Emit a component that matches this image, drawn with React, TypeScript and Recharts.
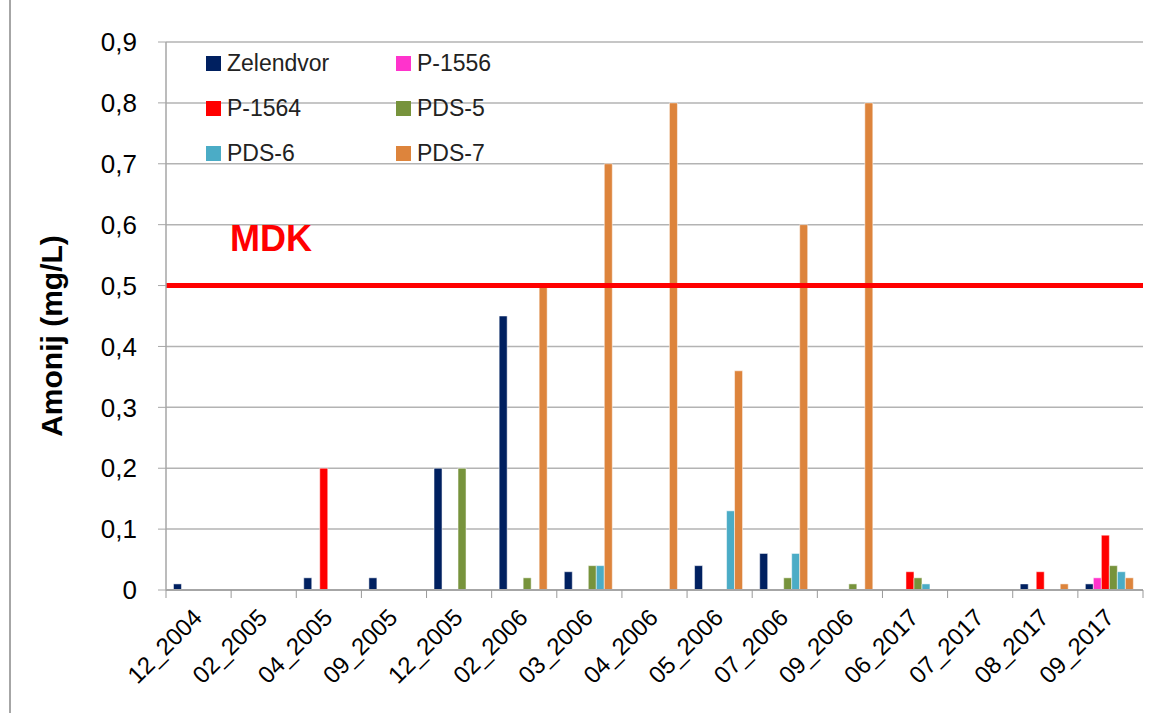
import { BarChart, Bar, XAxis, YAxis, CartesianGrid, ReferenceLine } from 'recharts';

const months = ['12_2004', '02_2005', '04_2005', '09_2005', '12_2005', '02_2006', '03_2006', '04_2006', '05_2006', '07_2006', '09_2006', '06_2017', '07_2017', '08_2017', '09_2017'];

const zelendvor = [0.01, null, 0.02, 0.02, 0.2, 0.45, 0.03, null, 0.04, 0.06, null, null, null, 0.01, 0.01];
const p1556 = [null, null, null, null, null, null, null, null, null, null, null, null, null, null, 0.02];
const p1564 = [null, null, 0.2, null, null, null, null, null, null, null, null, 0.03, null, 0.03, 0.09];
const pds5 = [null, null, null, null, 0.2, 0.02, 0.04, null, null, 0.02, 0.01, 0.02, null, null, 0.04];
const pds6 = [null, null, null, null, null, null, 0.04, null, 0.13, 0.06, null, 0.01, null, null, 0.03];
const pds7 = [null, null, null, null, null, 0.5, 0.7, 0.8, 0.36, 0.6, 0.8, null, null, 0.01, 0.02];

const yTicks = [0, 0.1, 0.2, 0.3, 0.4, 0.5, 0.6, 0.7, 0.8, 0.9];
const mdk = 0.5;

const series = [
  { key: 'zelendvor', name: 'Zelendvor', color: '#002060' },
  { key: 'p1556', name: 'P-1556', color: '#FF33CC' },
  { key: 'p1564', name: 'P-1564', color: '#FF0000' },
  { key: 'pds5', name: 'PDS-5', color: '#77933C' },
  { key: 'pds6', name: 'PDS-6', color: '#4BACC6' },
  { key: 'pds7', name: 'PDS-7', color: '#DD843C' },
];

const data = months.map((m, i) => ({
  month: m,
  zelendvor: zelendvor[i],
  p1556: p1556[i],
  p1564: p1564[i],
  pds5: pds5[i],
  pds6: pds6[i],
  pds7: pds7[i],
}));

const font = '"Liberation Sans", Arial, sans-serif';
const band = (1143 - 166) / months.length;

function MonthTick(props: any) {
  const { x, y, payload, index } = props;
  const isLast = index === months.length - 1;
  const tx = x + 5;
  const ty = y + 21;
  return (
    <g>
      <line x1={x - band / 2} y1={y - 8} x2={x - band / 2} y2={y} stroke="#999" />
      {isLast && <line x1={x + band / 2} y1={y - 8} x2={x + band / 2} y2={y} stroke="#999" />}
      <text
        x={tx}
        y={ty}
        textAnchor="end"
        fontSize={24}
        fill="#000"
        fontFamily={font}
        transform={`rotate(-45, ${tx}, ${ty})`}
      >
        {payload.value}
      </text>
    </g>
  );
}

function LegendBox() {
  return (
    <div style={{ position: 'absolute', left: 206, top: 49, display: 'grid', gridTemplateColumns: '190px 190px', rowGap: 17, fontFamily: font, fontSize: 23 }}>
      {series.map((s) => (
        <div key={s.key} style={{ display: 'flex', alignItems: 'center', height: 28 }}>
          <span style={{ width: 15, height: 15, background: s.color, display: 'inline-block', marginRight: 6 }} />
          <span style={{ color: '#222' }}>{s.name}</span>
        </div>
      ))}
    </div>
  );
}

function MdkLabel(props: any) {
  const { viewBox } = props;
  return (
    <text x={viewBox.x + 64} y={viewBox.y - 35} fill="#FF0000" fontSize={36} fontWeight="bold" fontFamily={font}>
      MDK
    </text>
  );
}

export default function App() {
  return (
    <div style={{ position: 'absolute', left: 0, top: 0, width: 1154, height: 713, background: '#fff' }}>
      <div style={{ position: 'absolute', left: 9, top: 0, width: 2, height: 713, background: '#a6a6a6' }} />
      <BarChart
        width={1154}
        height={713}
        data={data}
        margin={{ top: 42, right: 11, left: 0, bottom: 0 }}
        barCategoryGap="11.5%"
        barGap={0}
      >
        <CartesianGrid vertical={false} stroke="#b3b3b3" strokeWidth={1.5} />
        <XAxis
          dataKey="month"
          height={123}
          interval={0}
          tickLine={false}
          axisLine={{ stroke: '#a6a6a6', strokeWidth: 2 }}
          tick={<MonthTick />}
        />
        <YAxis
          width={166}
          domain={[0, 0.9]}
          ticks={yTicks}
          interval={0}
          tickFormatter={(v: number) => (v === 0 ? '0' : v.toFixed(1).replace('.', ','))}
          tick={{ fontSize: 26, fill: '#000', fontFamily: font }}
          tickLine={{ stroke: '#a6a6a6' }}
          tickSize={8}
          tickMargin={21}
          axisLine={{ stroke: '#a6a6a6', strokeWidth: 1.5 }}
          label={{
            value: 'Amonij (mg/L)',
            angle: -90,
            position: 'insideLeft',
            dx: 46,
            dy: 20,
            style: { fontSize: 30, fontWeight: 'bold', fill: '#000', fontFamily: font, textAnchor: 'middle' },
          }}
        />
        {series.map((s) => (
          <Bar key={s.key} dataKey={s.key} name={s.name} fill={s.color} stroke="#ffffff" strokeOpacity={0.5} isAnimationActive={false} />
        ))}
        <ReferenceLine y={mdk} stroke="#FF0000" strokeWidth={5} label={<MdkLabel />} />
      </BarChart>
      <LegendBox />
    </div>
  );
}
